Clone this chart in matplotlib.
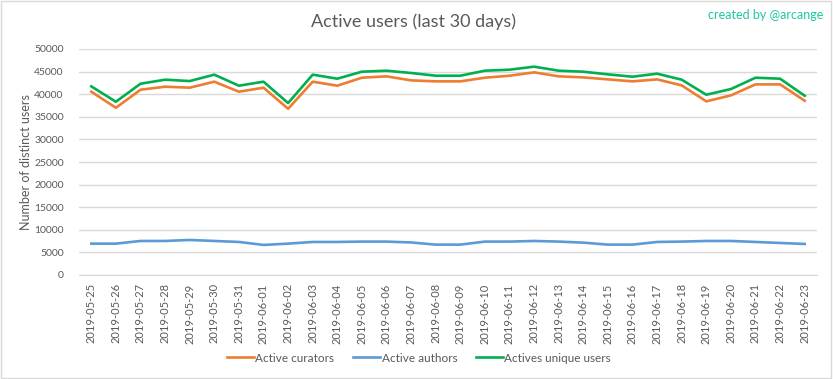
import matplotlib.pyplot as plt

# Data
dates = ['2019-05-25', '2019-05-26', '2019-05-27', '2019-05-28', '2019-05-29',
         '2019-05-30', '2019-05-31', '2019-06-01', '2019-06-02', '2019-06-03',
         '2019-06-04', '2019-06-05', '2019-06-06', '2019-06-07', '2019-06-08',
         '2019-06-09', '2019-06-10', '2019-06-11', '2019-06-12', '2019-06-13',
         '2019-06-14', '2019-06-15', '2019-06-16', '2019-06-17', '2019-06-18',
         '2019-06-19', '2019-06-20', '2019-06-21', '2019-06-22', '2019-06-23']

curators = [40550, 37000, 40990, 41660, 41440, 42770, 40550, 41440, 36780, 42770,
            41880, 43650, 43950, 43060, 42840, 42840, 43650, 44090, 44830, 43950,
            43720, 43280, 42840, 43280, 41950, 38410, 39740, 42170, 42170, 38550]

authors = [6940, 6940, 7530, 7530, 7750, 7530, 7310, 6650, 6940, 7310,
           7310, 7390, 7390, 7200, 6720, 6720, 7390, 7390, 7530, 7390,
           7160, 6720, 6720, 7310, 7390, 7530, 7530, 7310, 7090, 6870]

unique_users = [41730, 38330, 42320, 43210, 42910, 44320, 41880, 42770, 38040, 44320,
                43430, 44980, 45200, 44690, 44090, 44090, 45200, 45420, 46090, 45200,
                44980, 44390, 43870, 44540, 43210, 39880, 41140, 43650, 43430, 39660]

plt.rcParams['font.family'] = ['Lato', 'DejaVu Sans']
txt = '#595959'

fig = plt.figure(figsize=(8.33, 3.79), dpi=100)
ax = fig.add_axes([79 / 833, 1 - 275 / 379, (817 - 79) / 833, (275 - 49) / 379])

x = range(len(dates))
ax.plot(x, curators, color='#ED7D31', lw=1.9, label='Active curators')
ax.plot(x, authors, color='#5B9BD5', lw=1.9, label='Active authors')
ax.plot(x, unique_users, color='#00B050', lw=1.9, label='Actives unique users')

ax.set_xlim(-0.5, len(dates) - 0.5)
ax.set_ylim(0, 50000)
ax.set_yticks(range(0, 50001, 5000))
ax.set_xticks(list(x))
ax.set_xticklabels(dates, rotation=90)
ax.tick_params(axis='both', length=0, labelsize=8, colors=txt)
ax.tick_params(axis='y', labelsize=7.5, pad=11)
ax.tick_params(axis='x', pad=6)
ax.grid(axis='y', color='#D9D9D9', lw=1)
ax.set_axisbelow(True)
for s in ['top', 'right', 'left']:
    ax.spines[s].set_visible(False)
ax.spines['bottom'].set_color('#D9D9D9')

ax.set_ylabel('Number of distinct users', fontsize=9, color=txt)
ax.yaxis.set_label_coords(-0.064, 0.5)

fig.text(0.496, 1 - 22 / 379, 'Active users (last 30 days)', ha='center', va='center',
         fontsize=13, color=txt)
fig.text(823 / 833, 1 - 15 / 379, 'created by @arcange', ha='right', va='center',
         fontsize=9, color='#1DC7A0')

fig.legend(loc='center', bbox_to_anchor=(419 / 833, 1 - 358 / 379), ncol=3, frameon=False,
           fontsize=8.5, labelcolor=txt, handlelength=2.3, handletextpad=0.1,
           columnspacing=1.6)

# light frame around the chart
fig.patches.append(plt.Rectangle((0.001, 0.002), 0.997, 0.995, transform=fig.transFigure,
                                 fill=False, edgecolor='#D9D9D9', lw=1))

fig.savefig('out.png', dpi=100)
